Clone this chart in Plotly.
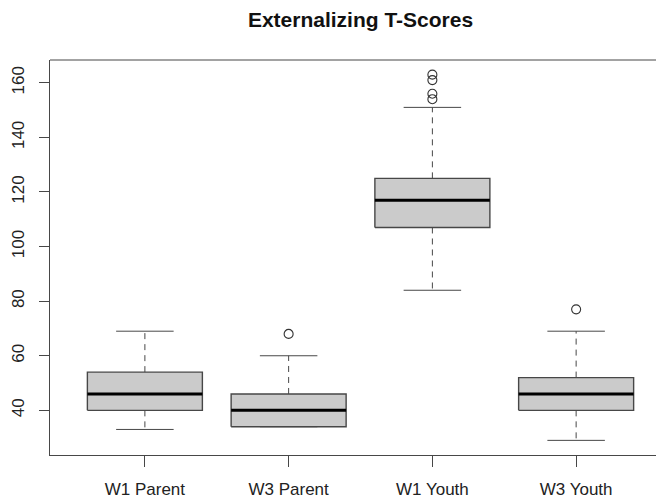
import plotly.graph_objects as go

# ---- data ----
categories = ["W1 Parent", "W3 Parent", "W1 Youth", "W3 Youth"]
lower_whisker = [33, 34, 84, 29]
q1 = [40, 34, 107, 40]
median = [46, 40, 117, 46]
q3 = [54, 46, 125, 52]
upper_whisker = [69, 60, 151, 69]
outlier_group = ["W3 Parent", "W1 Youth", "W1 Youth", "W1 Youth", "W1 Youth", "W3 Youth"]
outlier_value = [68, 154, 156, 161, 163, 77]
y_tick_values = [40, 60, 80, 100, 120, 140, 160]

# ---- style ----
FONT = "Liberation Sans, Arial, Helvetica, sans-serif"
LINE = "#474747"
FILL = "#cbcbcb"
BOXW = 0.8      # box width (category units)
CAPW = 0.4      # whisker cap width
# the page body has an 8px margin, so the figure is sized to the visible area
W, H = 656, 496
ML, MR, MT, MB = 42, 0, 52, 49

xpos = {c: i + 1 for i, c in enumerate(categories)}

# axis ranges as R computes them (4% extension)
all_vals = lower_whisker + upper_whisker + outlier_value
lo, hi = min(all_vals), max(all_vals)
span = hi - lo
yr = [lo - 0.04 * span, hi + 0.04 * span]
xr_full = [0.5 - 0.16, len(categories) + 0.5 + 0.16]
# the reference plot area runs off the right edge of the image
full_px = 621.0
vis_px = W - ML - MR
xr = [xr_full[0], xr_full[0] + (xr_full[1] - xr_full[0]) * vis_px / full_px]

wx, wy, bx, by, mx, my, cx, cy = [], [], [], [], [], [], [], []
for i, c in enumerate(categories):
    x = xpos[c]
    wx += [x, x, None, x, x, None]
    wy += [q3[i], upper_whisker[i], None, q1[i], lower_whisker[i], None]
    bx += [x - BOXW / 2, x + BOXW / 2, x + BOXW / 2, x - BOXW / 2, x - BOXW / 2, None]
    by += [q1[i], q1[i], q3[i], q3[i], q1[i], None]
    mx += [x - BOXW / 2, x + BOXW / 2, None]
    my += [median[i], median[i], None]
    cx += [x - CAPW / 2, x + CAPW / 2, None, x - CAPW / 2, x + CAPW / 2, None]
    cy += [upper_whisker[i], upper_whisker[i], None, lower_whisker[i], lower_whisker[i], None]

fig = go.Figure()
fig.add_trace(go.Scatter(x=wx, y=wy, mode="lines", hoverinfo="skip",
                         line=dict(color=LINE, width=1, dash="6px,5px")))
fig.add_trace(go.Scatter(x=cx, y=cy, mode="lines", hoverinfo="skip",
                         line=dict(color=LINE, width=1)))
fig.add_trace(go.Scatter(x=bx, y=by, mode="lines", fill="toself", fillcolor=FILL,
                         hoverinfo="skip", line=dict(color=LINE, width=1.4)))
fig.add_trace(go.Scatter(x=mx, y=my, mode="lines", hoverinfo="skip",
                         line=dict(color="#000000", width=3)))
fig.add_trace(go.Scatter(x=[xpos[g] for g in outlier_group], y=outlier_value,
                         mode="markers",
                         marker=dict(symbol="circle-open", size=9,
                                     color="#333333", line=dict(width=1.1))))

# top border of the plot box
fig.add_shape(type="line", xref="paper", yref="paper", x0=0, x1=1, y0=1, y1=1,
              line=dict(color=LINE, width=1))

title_center_px = ML + full_px / 2
fig.update_layout(
    width=W, height=H,
    margin=dict(l=ML, r=MR, t=MT, b=MB, autoexpand=False),
    paper_bgcolor="white", plot_bgcolor="white",
    showlegend=False,
    font=dict(family=FONT, size=17, color="#222222"),
    title=dict(text="<b>Externalizing T-Scores</b>",
               font=dict(family=FONT, size=21, color="#111111"),
               xref="paper", x=(title_center_px - ML) / vis_px, xanchor="center",
               yref="container", y=1 - 11.5 / H, yanchor="middle", automargin=False),
    xaxis=dict(range=xr, tickmode="array",
               tickvals=[xpos[c] for c in categories], ticktext=categories,
               showgrid=False, zeroline=False, showline=True, linecolor=LINE,
               linewidth=1, ticks="outside", ticklen=11, tickcolor=LINE,
               tickwidth=1, ticklabelstandoff=8, automargin=False, fixedrange=True),
    yaxis=dict(range=yr, tickmode="array", tickvals=y_tick_values,
               showgrid=False, zeroline=False, showline=True, linecolor=LINE,
               linewidth=1, ticks="outside", ticklen=10, tickcolor=LINE,
               tickwidth=1, tickangle=-90, ticklabelstandoff=8, automargin=False,
               fixedrange=True),
)

fig.write_html("out.html")
